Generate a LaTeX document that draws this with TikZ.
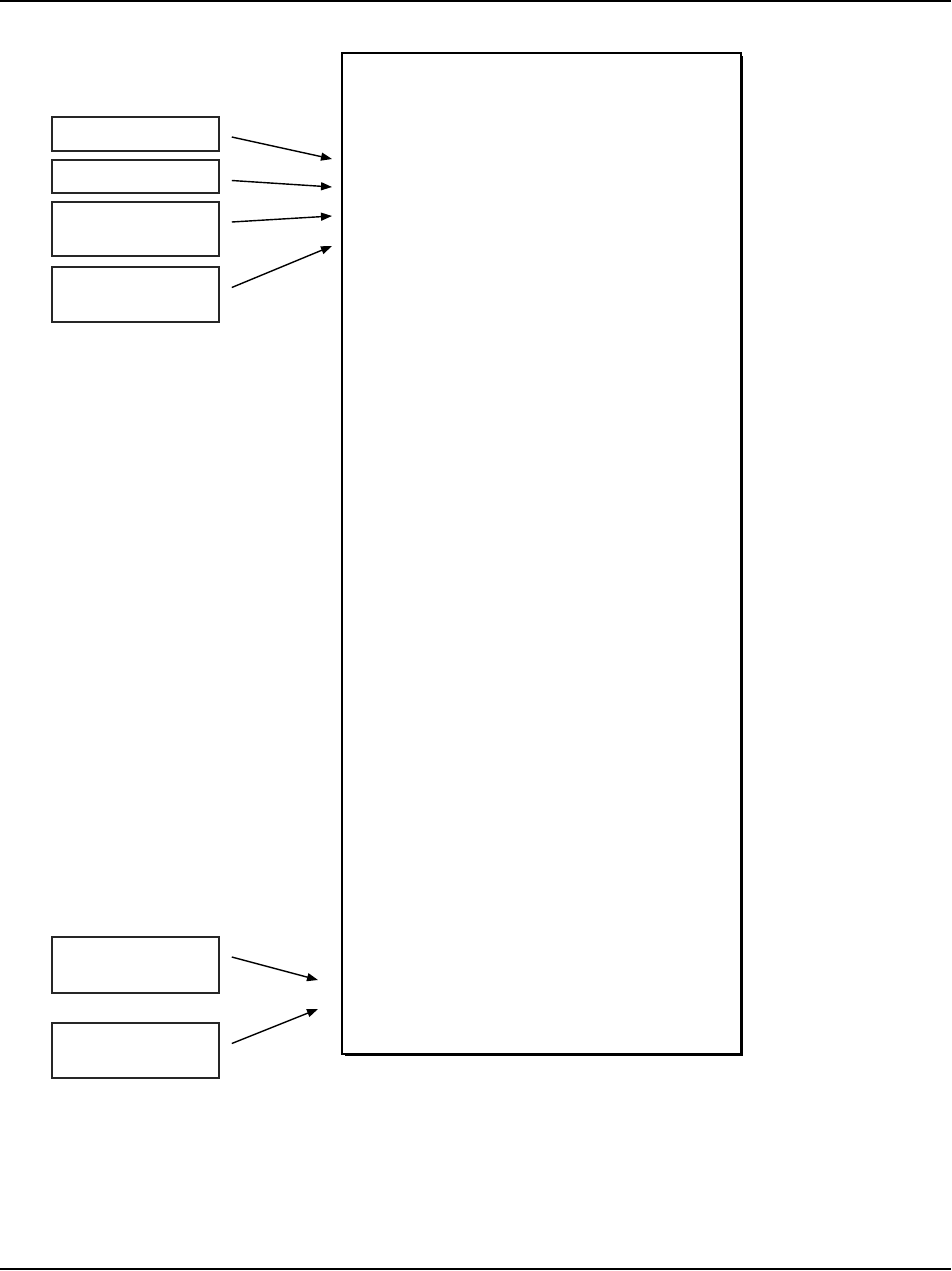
\documentclass[tikz,border=0pt]{standalone}
\usepackage{tikz}
\usetikzlibrary{arrows.meta,shadows}
\tikzset{
  sbox/.style={draw=black!85, line width=0.9pt, fill=white, inner sep=0pt,
               minimum width=3.34cm},
  mainbox/.style={draw=black, line width=1pt, fill=white, inner sep=0pt,
                  minimum width=7.98cm, minimum height=20.02cm,
                  drop shadow={shadow xshift=0.05cm, shadow yshift=-0.05cm,
                               opacity=1, fill=black}},
  inarr/.style={-{Triangle[length=2.2mm,width=1.6mm]}, black, line width=0.8pt},
  rule/.style={black, line width=1.2pt},
}
\begin{document}
\begin{tikzpicture}[x=0.02cm, y=-0.02cm]
    \useasboundingbox (0,0) rectangle (951,1271);
    % page rules
    \draw[rule] (0,1) -- (951,1);
    \draw[rule] (0,1269) -- (951,1269);
    % main block
    \node[mainbox] (main) at (541.5,553.5) {};
    % input boxes
    \node[sbox, minimum height=0.68cm] (in1) at (135.5,134) {};
    \node[sbox, minimum height=0.66cm] (in2) at (135.5,176.5) {};
    \node[sbox, minimum height=1.08cm] (in3) at (135.5,229) {};
    \node[sbox, minimum height=1.10cm] (in4) at (135.5,294.5) {};
    \node[sbox, minimum height=1.12cm] (in5) at (135.5,965) {};
    \node[sbox, minimum height=1.10cm] (in6) at (135.5,1050.5) {};
    % arrow tips, just short of the block
    \coordinate (t1) at (332,159);
    \coordinate (t2) at (332,187);
    \coordinate (t3) at (332,216);
    \coordinate (t4) at (332,246);
    \coordinate (t5) at (318,980);
    \coordinate (t6) at (318,1009);
    \draw[inarr] ([shift={(12,3)}]in1.east) -- (t1);
    \draw[inarr] ([shift={(12,4)}]in2.east) -- (t2);
    \draw[inarr] ([shift={(12,-7)}]in3.east) -- (t3);
    \draw[inarr] ([shift={(12,-7)}]in4.east) -- (t4);
    \draw[inarr] ([shift={(12,-8)}]in5.east) -- (t5);
    \draw[inarr] ([shift={(12,-7)}]in6.east) -- (t6);
\end{tikzpicture}
\end{document}
